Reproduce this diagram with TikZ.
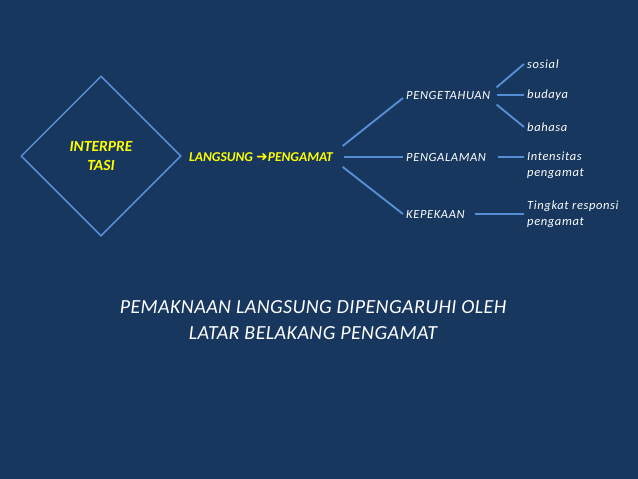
\documentclass[tikz,border=0pt]{standalone}
\usepackage{fontspec}
\setmainfont{Carlito}
\newfontfamily\itemfont[LetterSpace=5]{Carlito}
\newfontfamily\captionfont[LetterSpace=2]{Carlito}
\newfontfamily\arrowfont{DejaVu Sans}
\usepackage{xcolor}
\usetikzlibrary{shapes.geometric, positioning}
\definecolor{slidebg}{RGB}{23,55,94}
\definecolor{branch}{RGB}{85,142,213}
\definecolor{hilite}{RGB}{255,255,0}

\begin{document}
\begin{tikzpicture}[x=1pt, y=-1pt,
    branchline/.style={draw=branch, line width=1.9pt},
    keyword/.style={text=hilite, font=\fontsize{13.5}{16}\selectfont\bfseries\itshape},
    item/.style={text=white, font=\itemfont\fontsize{12.5}{16}\selectfont\itshape, inner xsep=3pt, inner ysep=1pt, align=left, anchor=west}]
    % Background
    \fill[slidebg] (0,0) rectangle (638,479);

    % Nodes
    \node[diamond, draw=branch, line width=1.5pt, minimum size=160pt, inner sep=0pt, align=center, keyword, font=\fontsize{15.5}{19}\selectfont\bfseries\itshape] (interp) at (101,156) {INTERPRE\\TASI};
    \node[keyword] (lp) at (261,157) {LANGSUNG {\arrowfont\bfseries\fontsize{14}{16}\selectfont ➜}PENGAMAT};

    \node[item] (tahu) at (403,95) {PENGETAHUAN};
    \node[item] (alam) at (403,157) {PENGALAMAN};
    \node[item] (kepek) at (403,214) {KEPEKAAN};

    \node[item] (sosial) at (524,64) {sosial};
    \node[item] (budaya) at (524,95) {budaya};
    \node[item] (bahasa) at (524,127) {bahasa};
    \node[item] (intens) at (524,165) {Intensitas\\pengamat};
    \node[item] (tingkat) at (524,214) {Tingkat responsi\\pengamat};

    \node[text=white, align=center, font=\captionfont\fontsize{20}{26}\selectfont\itshape] (caption) at (313,320) {PEMAKNAAN LANGSUNG DIPENGARUHI OLEH\\LATAR BELAKANG PENGAMAT};

    % Paths
    \draw[branchline, shorten <=8pt] ([yshift=6pt]lp.east) -- ([yshift=-3pt]tahu.west);
    \draw[branchline, shorten <=8pt] (lp.east) -- (alam.west);
    \draw[branchline, shorten <=8pt] ([yshift=-5pt]lp.east) -- (kepek.west);

    \draw[branchline, shorten <=4pt] ([yshift=5pt]tahu.east) -- (sosial.west);
    \draw[branchline, shorten <=4pt] (tahu.east) -- (budaya.west);
    \draw[branchline, shorten <=4pt] ([yshift=-7pt]tahu.east) -- (bahasa.west);
    \draw[branchline, shorten <=9pt] (alam.east) -- (alam -| intens.west);
    \draw[branchline, shorten <=7pt] (kepek.east) -- (tingkat.west);
\end{tikzpicture}
\end{document}
